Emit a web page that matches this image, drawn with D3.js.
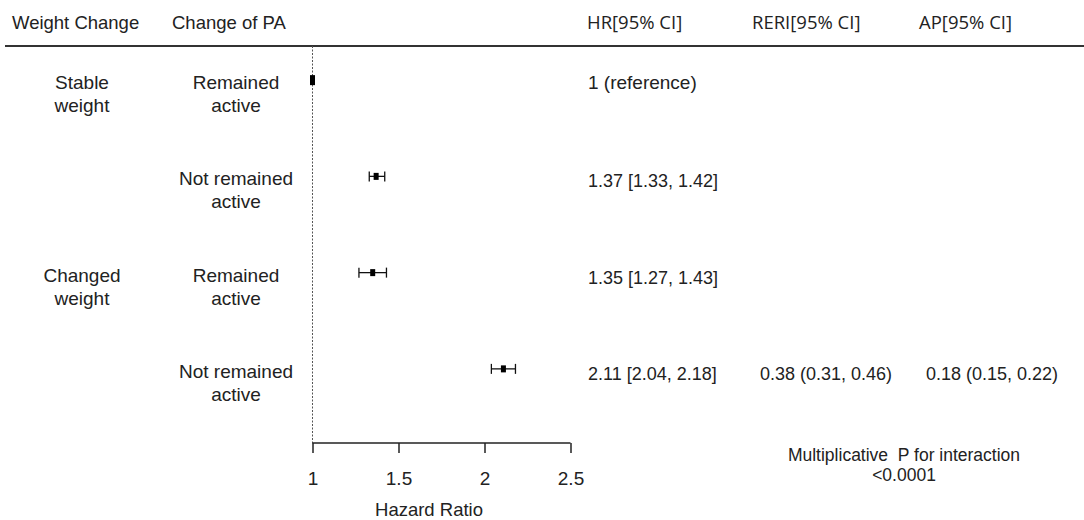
<!DOCTYPE html>
<html>
<head>
<meta charset="utf-8">
<script src="https://cdn.jsdelivr.net/npm/d3@7"></script>
<style>
  body { margin: 0; background: #fff; }
  text { font-family: "Liberation Sans", Arial, sans-serif; fill: #222; }
  .hdr { font-family: "Open Sans", "Noto Sans", sans-serif; font-size: 18.5px; }
</style>
</head>
<body>
<div id="chart"></div>
<script>
// rows of the table
var weightGroups = ["Stable\nweight", "", "Changed\nweight", ""];
var paGroups = ["Remained\nactive", "Not remained\nactive", "Remained\nactive", "Not remained\nactive"];
var hr = [1, 1.37, 1.35, 2.11];
var hrLow = [1, 1.33, 1.27, 2.04];
var hrHigh = [1, 1.42, 1.43, 2.18];
var hrText = ["1 (reference)", "1.37 [1.33, 1.42]", "1.35 [1.27, 1.43]", "2.11 [2.04, 2.18]"];
var reriText = ["", "", "", "0.38 (0.31, 0.46)"];
var apText = ["", "", "", "0.18 (0.15, 0.22)"];
var xTicks = [1, 1.5, 2, 2.5];
var headers = ["Weight Change", "Change of PA", "HR[95% CI]", "RERI[95% CI]", "AP[95% CI]"];

var width = 1084, height = 520;

var svg = d3.select("#chart").append("svg")
    .attr("width", width)
    .attr("height", height);

// scales
var x = d3.scaleLinear().domain([1, 2.5]).range([312.5, 570.5]);
var y = d3.scaleBand().domain(d3.range(hr.length)).range([32, 417]);
function rowY(i) { return y(i) + y.bandwidth() / 2; }

// header
var hx = [12, 172, 587, 752, 919];
svg.selectAll(".hdr")
    .data(headers)
  .enter().append("text")
    .attr("class", (d, i) => i < 2 ? "" : "hdr")
    .attr("x", (d, i) => hx[i])
    .attr("y", 29)
    .style("font-size", (d, i) => i < 2 ? "18.5px" : null)
    .text(d => d);

svg.append("line")
    .attr("x1", 5).attr("x2", width)
    .attr("y1", 46).attr("y2", 46)
    .attr("stroke", "#333").attr("stroke-width", 2);

// reference line at HR = 1
svg.append("line")
    .attr("x1", x(1)).attr("x2", x(1))
    .attr("y1", 46).attr("y2", 443)
    .attr("stroke", "#555")
    .attr("stroke-width", 1)
    .attr("stroke-dasharray", "2,1.5");

// two-line labels
function multiLine(sel, cx, data, size) {
  sel.selectAll(null)
      .data(data)
    .enter().append("text")
      .attr("x", cx)
      .attr("y", (d, i) => rowY(i) + 9)
      .attr("text-anchor", "middle")
      .style("font-size", size)
      .each(function(d) {
        var lines = d.split("\n");
        var t = d3.select(this);
        lines.forEach((l, k) => {
          t.append("tspan").attr("x", cx).attr("dy", k == 0 ? 0 : 23).text(l);
        });
      });
}
var g = svg.append("g");
multiLine(g, 82, weightGroups, "19px");
multiLine(g, 236, paGroups, "19px");

// CI whiskers
var rows = d3.range(hr.length).filter(i => hrHigh[i] > hrLow[i]);
svg.selectAll(".ci")
    .data(rows)
  .enter().append("line")
    .attr("x1", i => x(hrLow[i])).attr("x2", i => x(hrHigh[i]))
    .attr("y1", i => rowY(i)).attr("y2", i => rowY(i))
    .attr("stroke", "#111").attr("stroke-width", 1.3);
svg.selectAll(".capL")
    .data(rows)
  .enter().append("line")
    .attr("x1", i => x(hrLow[i])).attr("x2", i => x(hrLow[i]))
    .attr("y1", i => rowY(i) - 5).attr("y2", i => rowY(i) + 5)
    .attr("stroke", "#111").attr("stroke-width", 1.3);
svg.selectAll(".capR")
    .data(rows)
  .enter().append("line")
    .attr("x1", i => x(hrHigh[i])).attr("x2", i => x(hrHigh[i]))
    .attr("y1", i => rowY(i) - 5).attr("y2", i => rowY(i) + 5)
    .attr("stroke", "#111").attr("stroke-width", 1.3);

// point estimates (reference row drawn a bit taller)
svg.selectAll(".pt")
    .data(hr)
  .enter().append("rect")
    .attr("x", d => x(d) - 2.5)
    .attr("y", (d, i) => rowY(i) - (i == 0 ? 5 : 3.5))
    .attr("width", 5)
    .attr("height", (d, i) => i == 0 ? 10 : 7)
    .attr("fill", "#000");

// text columns
function column(data, cx, size) {
  svg.selectAll(null)
      .data(data)
    .enter().append("text")
      .attr("x", cx)
      .attr("y", (d, i) => rowY(i) + (i == 0 ? 9 : 11))
      .style("font-size", (d, i) => i == 0 ? "19px" : size)
      .text(d => d);
}
column(hrText, 588, "18px");
column(reriText, 760, "18px");
column(apText, 926, "18px");

// x axis
var axis = svg.append("g")
    .attr("transform", "translate(0,443)")
    .call(d3.axisBottom(x).tickValues(xTicks).tickFormat(d3.format("")).tickSize(10).tickPadding(19));
axis.select(".domain").attr("stroke", "#222").attr("stroke-width", 1.5).attr("d", "M" + x(1) + ",0H" + x(2.5));
axis.selectAll(".tick line").attr("stroke", "#222").attr("stroke-width", 1.5);
axis.selectAll(".tick text").style("font-size", "19px").style("font-family", "Liberation Sans, Arial, sans-serif").attr("fill", "#222");

svg.append("text")
    .attr("x", 429).attr("y", 516)
    .attr("text-anchor", "middle")
    .style("font-size", "18.5px")
    .text("Hazard Ratio");

svg.append("text")
    .attr("x", 904).attr("y", 461)
    .attr("text-anchor", "middle")
    .style("font-size", "17.5px")
    .text("Multiplicative\u00a0 P for interaction");
svg.append("text")
    .attr("x", 904).attr("y", 481)
    .attr("text-anchor", "middle")
    .style("font-size", "17.5px")
    .text("<0.0001");
</script>
</body>
</html>
